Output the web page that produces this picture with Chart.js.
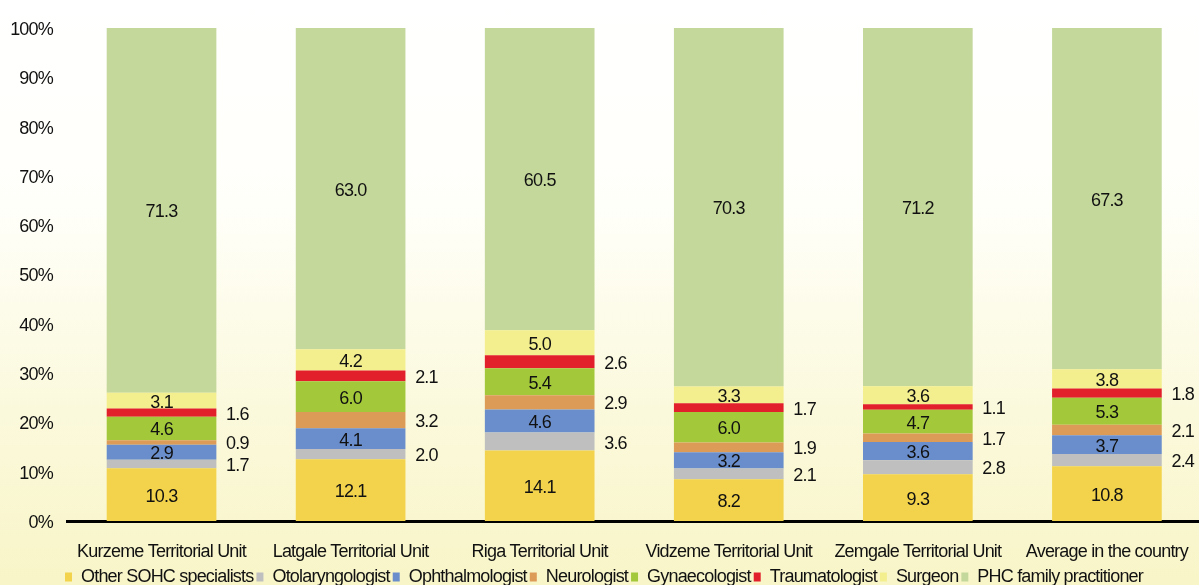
<!DOCTYPE html>
<html>
<head>
    <title>Consultations by specialist</title>
    <style>
        html, body {
            margin: 0;
            padding: 0;
            overflow: hidden;
            width: 1199px;
            height: 585px;
            background: linear-gradient(#ffffff 0%, #fffffa 35%, #fbf9dc 70%, #f8f5c8 100%);
        }
        #wrap {
            width: 1208px;
            height: 585px;
        }
    </style>
</head>
<body>
    <div id="wrap"><canvas id="chart" width="1208" height="585"></canvas></div>

    <script src="https://cdn.jsdelivr.net/npm/chart.js"></script>
    <script>
    // regions
    const units = ['Kurzeme Territorial Unit', 'Latgale Territorial Unit', 'Riga Territorial Unit',
                   'Vidzeme Territorial Unit', 'Zemgale Territorial Unit', 'Average in the country'];

    // shares, %, as printed on the bars
    const otherSohc   = [10.3, 12.1, 14.1, 8.2, 9.3, 10.8];
    const otolaryng   = [1.7, 2.0, 3.6, 2.1, 2.8, 2.4];
    const ophthalm    = [2.9, 4.1, 4.6, 3.2, 3.6, 3.7];
    const neurolog    = [0.9, 3.2, 2.9, 1.9, 1.7, 2.1];
    const gynaecolog  = [4.6, 6.0, 5.4, 6.0, 4.7, 5.3];
    const traumatolog = [1.6, 2.1, 2.6, 1.7, 1.1, 1.8];
    const surgeon     = [3.1, 4.2, 5.0, 3.3, 3.6, 3.8];
    const phcFamily   = [71.3, 63.0, 60.5, 70.3, 71.2, 67.3];

    const yTicks = [0, 10, 20, 30, 40, 50, 60, 70, 80, 90, 100];

    const series = [
        { label: 'Other SOHC specialists', data: otherSohc, color: '#f2d34b', outside: false },
        { label: 'Otolaryngologist', data: otolaryng, color: '#bfbfbf', outside: true },
        { label: 'Ophthalmologist', data: ophthalm, color: '#6a8ecb', outside: false },
        { label: 'Neurologist', data: neurolog, color: '#dd9b58', outside: true },
        { label: 'Gynaecologist', data: gynaecolog, color: '#a3c93a', outside: false },
        { label: 'Traumatologist', data: traumatolog, color: '#e2202b', outside: true },
        { label: 'Surgeon', data: surgeon, color: '#f3ef8e', outside: false },
        { label: 'PHC family practitioner', data: phcFamily, color: '#c4d89b', outside: false }
    ];

    // 100% stacked: every column scaled to its own total
    const totals = units.map((u, i) => series.reduce((s, d) => s + d.data[i], 0));

    const FONT = '"Liberation Sans", Arial, sans-serif';
    const SPACING = '-0.8px';
    const INK = '#111111';

    // the original uses a tight, condensed-looking Arial
    const tightText = {
        id: 'tightText',
        beforeLayout(chart) { chart.ctx.letterSpacing = SPACING; },
        beforeDraw(chart) { chart.ctx.letterSpacing = SPACING; }
    };

    const valueLabels = {
        id: 'valueLabels',
        afterDatasetsDraw(chart) {
            const ctx = chart.ctx;
            ctx.save();
            ctx.letterSpacing = SPACING;
            ctx.font = '18px ' + FONT;
            ctx.fillStyle = INK;
            ctx.textAlign = 'center';
            ctx.textBaseline = 'middle';
            chart.data.datasets.forEach((ds, di) => {
                const meta = chart.getDatasetMeta(di);
                meta.data.forEach((bar, i) => {
                    const txt = series[di].data[i].toFixed(1);
                    const cy = (bar.y + bar.base) / 2;
                    const cx = series[di].outside ? bar.x + bar.width / 2 + 21 : bar.x;
                    ctx.fillText(txt, cx, cy + 2);
                });
            });
            ctx.restore();
        }
    };

    new Chart(document.getElementById('chart'), {
        type: 'bar',
        data: {
            labels: units,
            datasets: series.map(s => ({
                label: s.label,
                data: s.data.map((v, i) => v / totals[i] * 100),
                backgroundColor: s.color,
                borderWidth: 0,
                barPercentage: 0.58,
                categoryPercentage: 1.0
            }))
        },
        options: {
            responsive: false,
            animation: false,
            layout: { padding: { top: 28, right: 0, bottom: -11, left: 0 } },
            plugins: {
                tooltip: { enabled: false },
                legend: {
                    position: 'bottom',
                    labels: {
                        boxWidth: 7,
                        boxHeight: 9,
                        padding: 3,
                        color: INK,
                        font: { family: FONT, size: 18 }
                    }
                }
            },
            scales: {
                x: {
                    stacked: true,
                    grid: { display: false, drawTicks: false },
                    border: { display: true, color: '#000000', width: 3 },
                    afterFit(scale) { scale.height = 44; },
                    ticks: { color: INK, padding: 20, font: { family: FONT, size: 18 } }
                },
                y: {
                    stacked: true,
                    min: 0,
                    max: 100,
                    grid: { display: false, drawTicks: false },
                    border: { display: false },
                    afterFit(scale) { scale.width = 67; },
                    afterBuildTicks(scale) { scale.ticks = yTicks.map(v => ({ value: v })); },
                    ticks: {
                        color: INK,
                        padding: 14,
                        labelOffset: 2,
                        font: { family: FONT, size: 18 },
                        callback: v => v + '%'
                    }
                }
            }
        },
        plugins: [tightText, valueLabels]
    });
    </script>
</body>
</html>
